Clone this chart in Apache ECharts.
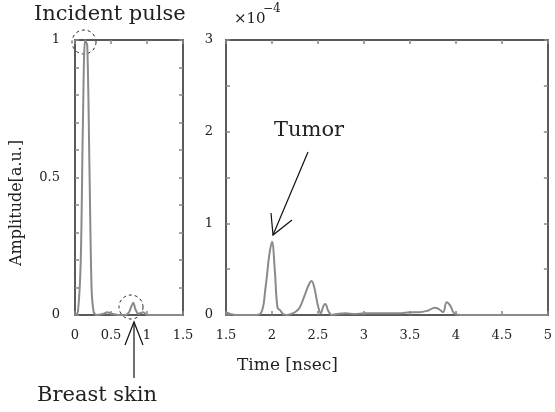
<!DOCTYPE html>
<html><head><meta charset="utf-8">
<script src="https://cdn.jsdelivr.net/npm/echarts@6/dist/echarts.min.js"></script>
<style>html,body{margin:0;padding:0;background:#fff}#c{width:555px;height:412px}</style>
</head><body><div id="c"></div>
<script>
// Left panel: incident pulse and breast skin reflection (amplitude, a.u.)
const leftTime = [0, 0.04, 0.08, 0.11, 0.14, 0.17, 0.2, 0.23, 0.26, 0.3, 0.4, 0.45, 0.5, 0.6, 0.7, 0.75, 0.78, 0.81, 0.84, 0.88, 0.95, 1.0, 1.2, 1.5];
const leftAmp  = [0, 0.01, 0.2, 0.7, 1.0, 0.98, 0.55, 0.1, 0.01, 0, 0.005, 0.01, 0.005, 0, 0, 0.01, 0.03, 0.045, 0.02, 0.005, 0.01, 0, 0, 0];
// Right panel: scattered signal (x 1e-4)
const rightTime = [1.5,1.55,1.6,1.7,1.8,1.88,1.93,1.97,2.0,2.03,2.06,2.09,2.12,2.16,2.2,2.25,2.3,2.35,2.4,2.43,2.46,2.5,2.53,2.56,2.58,2.61,2.65,2.7,2.8,2.9,3.0,3.2,3.4,3.5,3.6,3.7,3.77,3.82,3.86,3.9,3.94,3.98,4.05,4.2,4.5,5.0];
const rightAmp  = [0.03,0.01,0,0,0,0.02,0.3,0.65,0.8,0.5,0.08,0.05,0.01,0,0.01,0.03,0.08,0.2,0.33,0.37,0.3,0.1,0.02,0.1,0.12,0.05,0,0.01,0.02,0.01,0.02,0.02,0.02,0.03,0.03,0.05,0.08,0.06,0.03,0.14,0.1,0.02,0,0,0,0];
const leftXTicks = [0, 0.5, 1, 1.5];
const leftYTicks = [0, 0.5, 1];
const rightXTicks = [1.5, 2, 2.5, 3, 3.5, 4, 4.5, 5];
const rightYTicks = [0, 1, 2, 3];

const F = '"DejaVu Serif", "Liberation Serif", serif';
const frame = '#5a5a5a';
const lineCol = '#8a8a8a';
const txt = '#222';

function ax(base) {
  return Object.assign({
    axisLine: {show: true, onZero: false, lineStyle: {color: frame, width: 2}},
    axisTick: {show: true, inside: true, length: 4, lineStyle: {color: '#888', width: 1.5}},
    splitLine: {show: false},
    axisLabel: {show: true, color: txt, fontFamily: F, fontSize: 13}
  }, base);
}
function mirror(base) {
  const a = ax(base);
  a.axisLabel = {show: false};
  return a;
}
const lbl = (list, margin) => ({color: txt, fontFamily: F, fontSize: 13, margin: margin,
  formatter: v => list.includes(+(+v).toFixed(2)) ? String(+(+v).toFixed(2)) : ''});

const chart = echarts.init(document.getElementById('c'));
chart.setOption({
  animation: false,
  grid: [
    {left: 75, top: 40, width: 108, height: 275},
    {left: 226, top: 40, width: 326, height: 275}
  ],
  xAxis: [
    ax({gridIndex: 0, type: 'value', min: 0, max: 1.5, interval: 0.5, position: 'bottom', axisLabel: lbl(leftXTicks, 14)}),
    mirror({gridIndex: 0, type: 'value', min: 0, max: 1.5, interval: 0.5, position: 'top'}),
    ax({gridIndex: 1, type: 'value', min: 1.5, max: 5, interval: 0.5, position: 'bottom', axisLabel: lbl(rightXTicks, 14)}),
    mirror({gridIndex: 1, type: 'value', min: 1.5, max: 5, interval: 0.5, position: 'top'})
  ],
  yAxis: [
    ax({gridIndex: 0, type: 'value', min: 0, max: 1, interval: 0.1, position: 'left', axisLabel: lbl(leftYTicks, 15)}),
    mirror({gridIndex: 0, type: 'value', min: 0, max: 1, interval: 0.1, position: 'right'}),
    ax({gridIndex: 1, type: 'value', min: 0, max: 3, interval: 0.5, position: 'left', axisLabel: lbl(rightYTicks, 13)}),
    mirror({gridIndex: 1, type: 'value', min: 0, max: 3, interval: 0.5, position: 'right'})
  ],
  series: [
    {type: 'line', xAxisIndex: 0, yAxisIndex: 0, symbol: 'none', smooth: 0.3,
     lineStyle: {color: lineCol, width: 2},
     data: leftTime.map((t, i) => [t, leftAmp[i]])},
    {type: 'line', xAxisIndex: 2, yAxisIndex: 2, symbol: 'none', smooth: 0.4,
     lineStyle: {color: lineCol, width: 2},
     data: rightTime.map((t, i) => [t, rightAmp[i]])}
  ],
  graphic: [
    {type: 'text', left: 34, top: 4, style: {text: 'Incident pulse', font: '21px ' + F, fill: txt}},
    {type: 'text', left: 37, top: 385, style: {text: 'Breast skin', font: '21px ' + F, fill: txt}},
    {type: 'text', left: 237, top: 357, style: {text: 'Time [nsec]', font: '17px ' + F, fill: txt}},
    {type: 'text', left: 274, top: 120, style: {text: 'Tumor', font: '21px ' + F, fill: txt}},
    {type: 'text', left: 234, top: 12, style: {text: '\u00d710', font: '15px ' + F, fill: txt}},
    {type: 'text', left: 263, top: 3, style: {text: '\u2212', font: '12px ' + F, fill: txt}},
    {type: 'text', left: 273, top: 3, style: {text: '4', font: '12px ' + F, fill: txt}},
    {type: 'text', rotation: Math.PI / 2, x: 9, y: 266, style: {text: 'Amplitude[a.u.]', font: '16px ' + F, fill: txt}},
    {type: 'circle', shape: {cx: 84, cy: 42, r: 12}, style: {fill: 'none', stroke: '#222', lineWidth: 1, lineDash: [3, 3]}},
    {type: 'circle', shape: {cx: 131, cy: 307, r: 12}, style: {fill: 'none', stroke: '#222', lineWidth: 1, lineDash: [3, 3]}},
    {type: 'line', shape: {x1: 308, y1: 152, x2: 273, y2: 235}, style: {stroke: '#111', lineWidth: 1.2}},
    {type: 'polyline', shape: {points: [[271, 213], [273, 235], [292, 220]]}, style: {stroke: '#111', lineWidth: 1.2, fill: 'none'}},
    {type: 'line', shape: {x1: 134, y1: 378, x2: 134, y2: 322}, style: {stroke: '#111', lineWidth: 1.2}},
    {type: 'polyline', shape: {points: [[125, 345], [134, 322], [143, 345]]}, style: {stroke: '#111', lineWidth: 1.2, fill: 'none'}}
  ]
});
</script></body></html>
